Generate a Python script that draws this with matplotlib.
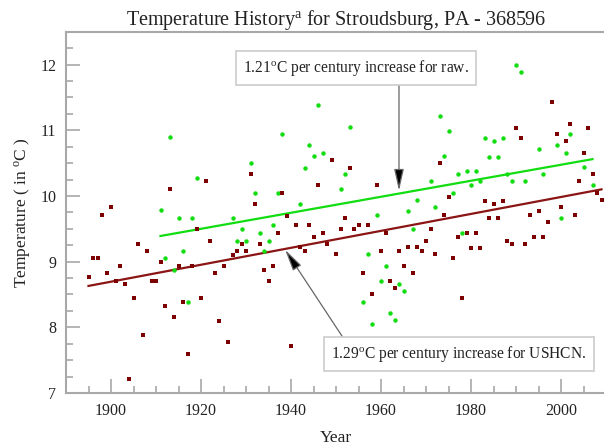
import matplotlib
matplotlib.use("Agg")
import matplotlib.pyplot as plt
import numpy as np

plt.rcParams["font.family"] = ["Liberation Serif", "DejaVu Serif"]
plt.rcParams["mathtext.fontset"] = "custom"
plt.rcParams["mathtext.rm"] = "Liberation Serif"
plt.rcParams["mathtext.it"] = "Liberation Serif:italic"

# USHCN adjusted annual means (dark red squares), 1895-2009
ushcn_years = np.arange(1895, 2010)
ushcn_temp = [
    8.77, 9.05, 9.05, 9.71, 8.82, 9.83, 8.71, 8.93, 8.66, 7.21,   # 1895-1904
    8.44, 9.27, 7.88, 9.16, 8.71, 8.71, 8.99, 8.33, 10.10, 8.16,  # 1905-1914
    8.93, 8.38, 7.60, 8.93, 9.49, 8.44, 10.22, 9.32, 8.82, 8.10,  # 1915-1924
    8.93, 7.77, 9.10, 9.16, 9.27, 9.16, 10.33, 9.88, 9.27, 8.88,  # 1925-1934
    8.71, 8.93, 9.44, 10.05, 9.70, 7.72, 9.55, 9.22, 9.16, 9.55,  # 1935-1944
    9.38, 10.16, 9.44, 9.27, 10.55, 9.11, 9.49, 9.66, 10.43, 9.49,  # 1945-1954
    9.55, 8.83, 9.55, 8.50, 10.16, 9.16, 9.44, 8.71, 8.60, 9.16,  # 1955-1964
    8.94, 9.22, 8.83, 9.22, 9.16, 9.32, 9.49, 9.11, 10.50, 9.71,  # 1965-1974
    9.99, 9.05, 9.38, 8.44, 9.44, 9.21, 9.44, 9.21, 9.93, 9.66,   # 1975-1984
    9.88, 9.66, 9.93, 9.32, 9.27, 11.04, 10.88, 9.27, 9.71, 9.38,  # 1985-1994
    9.77, 9.38, 9.60, 11.43, 10.94, 9.83, 10.83, 11.10, 9.71, 10.22,  # 1995-2004
    10.66, 11.04, 10.33, 10.05, 9.94,  # 2005-2009
]

# raw annual means (green dots)
raw_years = [
    1911, 1912, 1913, 1914, 1915, 1916, 1917, 1918, 1919,
    1927, 1928, 1929, 1930, 1931, 1932, 1933, 1934, 1935, 1936, 1937, 1938,
    1942, 1943, 1944, 1945, 1946, 1947, 1951, 1952, 1953,
    1956, 1957, 1958, 1959, 1960, 1961, 1962, 1963, 1964, 1965, 1966, 1967, 1968,
    1971, 1972, 1973, 1974, 1975, 1976, 1977, 1978, 1979, 1980, 1981, 1982,
    1983, 1984, 1985, 1986, 1987, 1988, 1989, 1990, 1991, 1992,
    1995, 1996, 1999, 2000, 2001, 2002, 2005, 2007,
]
raw_temp = [
    9.78, 9.05, 10.89, 8.88, 9.66, 9.16, 8.38, 9.66, 10.27,
    9.66, 9.32, 9.49, 9.32, 10.50, 10.05, 9.44, 9.16, 9.32, 9.55, 10.05, 10.94,
    9.88, 10.43, 10.77, 10.61, 11.38, 10.66, 10.10, 10.33, 11.05,
    8.38, 9.11, 8.05, 9.71, 8.71, 8.94, 8.22, 8.11, 8.66, 8.55, 9.77, 9.49, 9.94,
    10.22, 9.83, 11.22, 10.61, 10.99, 10.05, 10.33, 9.44, 10.38, 10.16, 10.38, 10.22,
    10.88, 10.60, 10.83, 10.60, 10.88, 10.33, 10.22, 12.00, 11.88, 10.22,
    10.71, 10.33, 10.77, 9.66, 10.66, 10.94, 10.44, 10.16,
]

# trend lines (start/end year and value)
raw_trend_years = [1911, 2007]
raw_trend_temp = [9.39, 10.56]
ushcn_trend_years = [1895, 2009]
ushcn_trend_temp = [8.63, 10.10]

red = "#7d0000"
green = "#11dd11"
spine_gray = "#a8a8a8"

fig = plt.figure(figsize=(6.04, 4.45), dpi=100)
ax = fig.add_axes([66 / 604, 52 / 445, 540 / 604, 361.3 / 445])

ax.plot(raw_trend_years, raw_trend_temp, color=green, lw=1.6, zorder=2)
ax.plot(ushcn_trend_years, ushcn_trend_temp, color="#8b1414", lw=1.6, zorder=2)
ax.plot(raw_years, raw_temp, "o", color=green, markersize=3.2, markeredgewidth=0, zorder=3)
ax.plot(ushcn_years, ushcn_temp, "s", color=red, markersize=3.4, markeredgewidth=0, zorder=4)

ax.set_xlim(1890, 2010)
ax.set_ylim(7, 12.5)
ax.set_xticks(np.arange(1900, 2001, 20))
ax.set_xticks(np.arange(1895, 2010, 5), minor=True)
ax.set_yticks(np.arange(7, 13, 1))
ax.set_yticks(np.arange(7, 12.51, 0.25), minor=True)

for side in ["left", "bottom", "top", "right"]:
    ax.spines[side].set_color(spine_gray)
    ax.spines[side].set_linewidth(1.5)
ax.tick_params(which="both", direction="in", color=spine_gray, width=1.2,
               labelsize=11.5, labelcolor="#222222")
ax.tick_params(which="major", length=10, pad=7)
ax.tick_params(which="minor", length=5)

ax.set_title(r"Temperature History$^\mathrm{a}$ for Stroudsburg, PA - 368596",
             fontsize=14.5, pad=4, color="#222222")
ax.set_xlabel("Year", fontsize=12.5, labelpad=8, color="#222222")
ax.set_ylabel(r"Temperature ( in $^\mathrm{o}$C )", fontsize=12.5, labelpad=6, color="#222222")

box = dict(boxstyle="square,pad=0.45", fc="white", ec="#cccccc", lw=1.2)
ax.text(1954.4, 11.95, r"1.21$^\mathrm{o}$C per century increase for raw.",
        fontsize=11.2, ha="center", va="center", bbox=box, zorder=6, color="#222222")
ax.text(1977.3, 7.59, r"1.29$^\mathrm{o}$C per century increase for USHCN.",
        fontsize=11.2, ha="center", va="center", bbox=box, zorder=6, color="#222222")

arrow = dict(arrowstyle="-|>,head_length=1.1,head_width=0.25", ec="#666666",
             fc="black", lw=0.9, shrinkA=0, shrinkB=0, mutation_scale=12)
ax.annotate("", xy=(1964.0, 10.08), xytext=(1964.0, 11.72), arrowprops=arrow, zorder=5)
ax.annotate("", xy=(1938.7, 9.18), xytext=(1951.4, 7.86), arrowprops=arrow, zorder=5)

fig.savefig("out.png", dpi=100)
